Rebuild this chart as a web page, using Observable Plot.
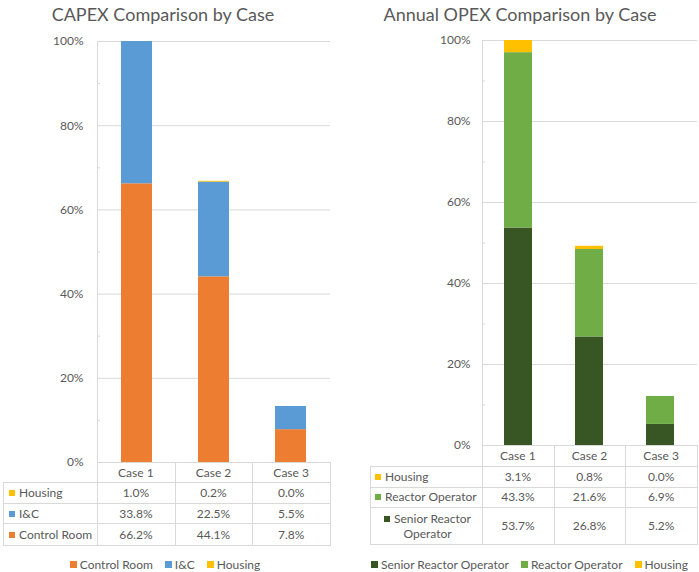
<!DOCTYPE html>
<html>
<head>
<meta charset="utf-8">
<script src="https://cdn.jsdelivr.net/npm/d3@7"></script>
<script src="https://cdn.jsdelivr.net/npm/@observablehq/plot@0.6"></script>
<style>
  html, body { margin: 0; padding: 0; background: #fff; }
  #root { position: relative; width: 699px; height: 572px; overflow: hidden; font-family: Lato, "Open Sans", sans-serif; color: #595959; }
  .abs { position: absolute; }
  .title { font-size: 18px; line-height: 24px; text-align: center; white-space: nowrap; }
  .cell { position: absolute; display: flex; align-items: center; font-size: 12px; line-height: 15px; box-sizing: border-box; }
  .hline { position: absolute; height: 1px; background: #d9d9d9; }
  .vline { position: absolute; width: 1px; background: #d9d9d9; }
  .key { display: inline-block; width: 6px; height: 6px; margin-right: 4px; vertical-align: 1px; }
  .legend { position: absolute; display: flex; justify-content: center; align-items: center; font-size: 12px; white-space: nowrap; }
  .legend .item { display: flex; align-items: center; margin: 0 6px; }
  .legend .sw { width: 7px; height: 7px; margin-right: 3px; }
</style>
</head>
<body>
<div id="root"></div>
<script>
// ---- data ----
const cases = ["Case 1", "Case 2", "Case 3"];
const yTicks = [0, 20, 40, 60, 80, 100];
const yMinorTicks = [10, 30, 50, 70, 90];

const capexTitle = "CAPEX Comparison by Case";
const capexSeries = ["Control Room", "I&C", "Housing"];
const capexColors = ["#ED7D31", "#5B9BD5", "#FFC000"];
const capexControlRoom = [66.2, 44.1, 7.8];
const capexIC = [33.8, 22.5, 5.5];
const capexHousing = [1.0, 0.2, 0.0];

const opexTitle = "Annual OPEX Comparison by Case";
const opexSeries = ["Senior Reactor Operator", "Reactor Operator", "Housing"];
const opexColors = ["#375623", "#70AD47", "#FFC000"];
const opexSRO = [53.7, 26.8, 5.2];
const opexRO = [43.3, 21.6, 6.9];
const opexHousing = [3.1, 0.8, 0.0];

const root = document.getElementById("root");

function el(tag, cls, style, html) {
  const e = document.createElement(tag);
  if (cls) e.className = cls;
  if (style) Object.assign(e.style, style);
  if (html != null) e.textContent = html;
  return e;
}

function makeChart(cfg) {
  const data = [];
  cfg.series.forEach((s, i) => cases.forEach((c, j) => data.push({case: c, series: s, value: cfg.values[i][j]})));
  const svg = Plot.plot({
    width: cfg.width, height: cfg.height,
    marginLeft: cfg.ml, marginRight: cfg.mr, marginTop: cfg.mt, marginBottom: cfg.mb,
    style: {fontFamily: "Lato, 'Open Sans', sans-serif", fontSize: "12px", color: "#595959", background: "transparent", overflow: "visible"},
    x: {domain: cases, paddingInner: 0.6, paddingOuter: 0.3, axis: null},
    y: {domain: [0, 100], axis: null},
    color: {domain: cfg.series, range: cfg.colors},
    marks: [
      Plot.ruleY(yTicks, {stroke: "#d9d9d9", strokeOpacity: 1}),
      Plot.frame({anchor: "left", stroke: "#d9d9d9", strokeOpacity: 1}),
      Plot.axisY({ticks: yMinorTicks, tickSize: 3, dx: 3, tickFormat: () => "", label: null, stroke: "#d9d9d9", strokeOpacity: 1}),
      Plot.barY(data, {x: "case", y: "value", fill: "series", clip: true}),
      Plot.axisY({ticks: yTicks, tickSize: 0, tickPadding: cfg.tickPadding, tickFormat: d => d + "%", label: null, fontSize: 12})
    ]
  });
  svg.style.position = "absolute";
  svg.style.left = cfg.left + "px";
  svg.style.top = "0px";
  root.appendChild(svg);

  // title
  const t = el("div", "abs title", {left: cfg.titleLeft + "px", width: cfg.titleWidth + "px", top: "2px"}, cfg.title);
  root.appendChild(t);

  // data table
  const ce = cfg.colEdges, re = cfg.rowEdges;
  // header
  cases.forEach((c, j) => {
    const d = el("div", "cell", {left: ce[j + 1] + "px", top: re[0] + "px", width: (ce[j + 2] - ce[j + 1]) + "px", height: (re[1] - re[0]) + "px", justifyContent: "center"}, c);
    root.appendChild(d);
  });
  const rows = cfg.series.map((s, i) => ({label: s, color: cfg.colors[i], values: cfg.values[i]})).reverse();
  rows.forEach((r, i) => {
    const top = re[i + 1], h = re[i + 2] - re[i + 1];
    const lab = el("div", "cell", {left: ce[0] + "px", top: top + "px", width: (ce[1] - ce[0]) + "px", height: h + "px", paddingLeft: cfg.keyPad + "px", paddingRight: "2px"});
    const inner = el("div", null, {width: "100%"});
    const key = el("span", "key", {background: r.color});
    inner.appendChild(key);
    inner.appendChild(document.createTextNode(r.label));
    lab.appendChild(inner);
    root.appendChild(lab);
    if (inner.getBoundingClientRect().height > 20) inner.style.textAlign = "center";
    r.values.forEach((v, j) => {
      const d = el("div", "cell", {left: ce[j + 1] + "px", top: top + "px", width: (ce[j + 2] - ce[j + 1]) + "px", height: h + "px", justifyContent: "center"}, v.toFixed(1) + "%");
      root.appendChild(d);
    });
  });
  // lines
  re.forEach((y, i) => {
    const x0 = i === 0 ? ce[1] : ce[0];
    root.appendChild(el("div", "hline", {left: x0 + "px", top: y + "px", width: (ce[ce.length - 1] - x0 + 1) + "px"}));
  });
  ce.forEach((x, k) => {
    const y0 = k === 0 ? re[1] : re[0];
    root.appendChild(el("div", "vline", {left: x + "px", top: y0 + "px", height: (re[re.length - 1] - y0) + "px"}));
  });

  // legend
  const lg = el("div", "legend", {left: cfg.legendLeft + "px", width: cfg.legendWidth + "px", top: "556px", height: "16px"});
  cfg.series.forEach((s, i) => {
    const it = el("div", "item");
    it.appendChild(el("div", "sw", {background: cfg.colors[i]}));
    it.appendChild(el("span", null, null, s));
    lg.appendChild(it);
  });
  root.appendChild(lg);
}

makeChart({
  title: capexTitle, series: capexSeries, colors: capexColors,
  values: [capexControlRoom, capexIC, capexHousing],
  left: 0, width: 340, height: 463, ml: 97, mr: 10, mt: 41, mb: 1, tickPadding: 14,
  titleLeft: 0, titleWidth: 326,
  colEdges: [3, 97, 174.7, 252.3, 330],
  rowEdges: [462, 482, 503, 523, 545],
  keyPad: 6,
  legendLeft: 40, legendWidth: 250
});

makeChart({
  title: opexTitle, series: opexSeries, colors: opexColors,
  values: [opexSRO, opexRO, opexHousing],
  left: 350, width: 349, height: 446, ml: 132, mr: 2, mt: 40, mb: 1, tickPadding: 12,
  titleLeft: 370, titleWidth: 300,
  colEdges: [370, 482, 553.7, 625.3, 697],
  rowEdges: [445, 466, 486.5, 507, 544],
  keyPad: 5,
  legendLeft: 360, legendWidth: 339
});
</script>
</body>
</html>
